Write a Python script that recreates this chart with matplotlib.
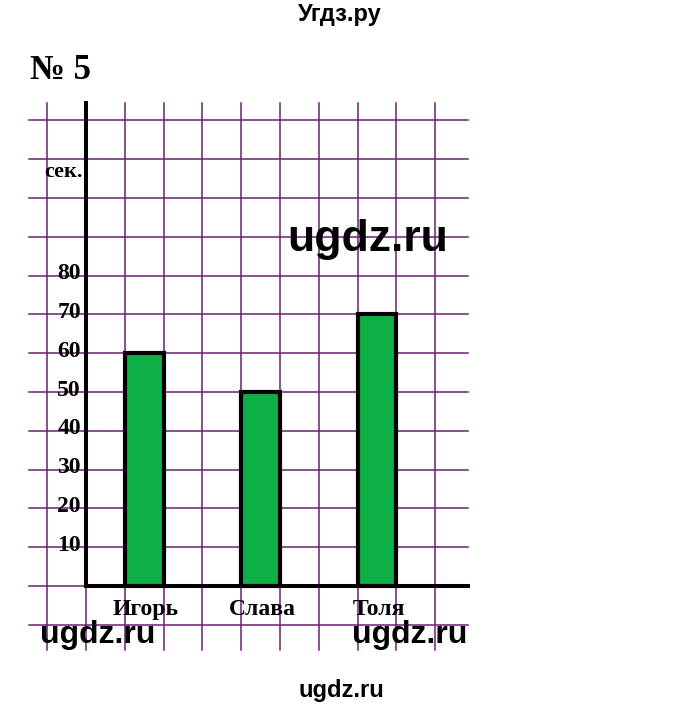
import matplotlib
matplotlib.use("Agg")
import matplotlib.pyplot as plt

# данные диаграммы
names = ["Игорь", "Слава", "Толя"]
seconds = [60, 50, 70]
bar_pos = [1, 4, 7]          # левый край столбика, в клетках
y_ticks = [10, 20, 30, 40, 50, 60, 70, 80]

grid_col = "#6a2270"
green = "#0cb044"
serif = "Liberation Serif"
sans = "Liberation Sans"

fig = plt.figure(figsize=(6.8, 7.1), dpi=100)
ax = fig.add_axes([0, 0, 1, 1])
# 1 клетка по x = 1, по y = 10 сек.
ax.set_xlim(-2.216, 15.31)
ax.set_ylim(-31.96, 151.03)
ax.axis("off")

# клетки тетради
for u in range(-1, 10):
    ax.plot([u, u], [-16.5, 124.4], color=grid_col, lw=1.1, zorder=1)
for v in range(-10, 130, 10):
    ax.plot([-1.47, 9.85], [v, v], color=grid_col, lw=1.1, zorder=1)

# оси
ax.plot([0, 0], [0, 124.4], color="black", lw=2.9, zorder=3)
ax.plot([0, 9.85], [0, 0], color="black", lw=2.9, zorder=3)

# столбики
ax.bar(bar_pos, seconds, width=1, align="edge", color=green,
       edgecolor="black", linewidth=3.0, zorder=2)

for v in y_ticks:
    ax.text(-0.13, v + 0.5, str(v), ha="right", va="center", fontsize=17,
            fontweight="bold", family=serif, zorder=4)
ax.text(-0.08, 106.8, "сек.", ha="right", va="center", fontsize=16,
        fontweight="bold", family=serif, zorder=4)

for p, n in zip(bar_pos, names):
    ax.text(p + 0.55, -6.0, n, ha="center", va="center", fontsize=17,
            fontweight="bold", family=serif, zorder=4)

ax.text(-1.45, 132.8, "№ 5", ha="left", va="center", fontsize=25,
        fontweight="bold", family=serif)
fig.text(0.5, 1 - 15 / 710, "Угдз.ру", ha="center", va="center",
         fontsize=17, fontweight="bold", family=sans)

# водяные знаки
ax.text(7.27, 89.2, "ugdz.ru", ha="center", va="center", fontsize=32,
        fontweight="bold", family=sans, zorder=5)
ax.text(0.3, -12.6, "ugdz.ru", ha="center", va="center", fontsize=23,
        fontweight="bold", family=sans, zorder=5)
ax.text(8.35, -12.6, "ugdz.ru", ha="center", va="center", fontsize=23,
        fontweight="bold", family=sans, zorder=5)
fig.text(341 / 680, 1 - 690 / 710, "ugdz.ru", ha="center", va="center",
         fontsize=17, fontweight="bold", family=sans)

fig.savefig("out.png", dpi=100, facecolor="white")
